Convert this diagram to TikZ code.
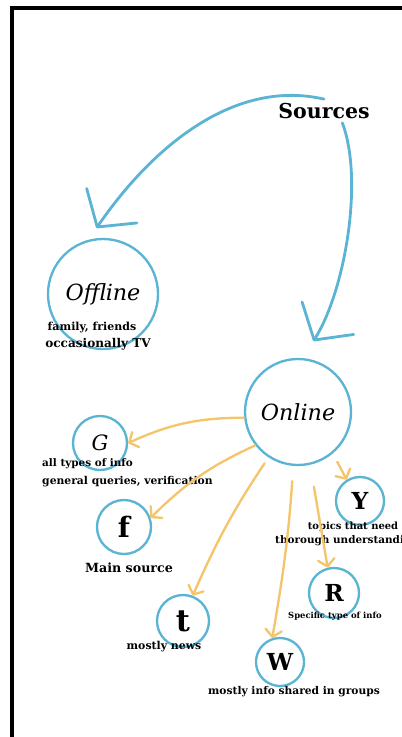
\documentclass[tikz,border=0pt]{standalone}
\usepackage{fontspec}
\setmainfont{DejaVu Serif}
\usetikzlibrary{arrows.meta}
\definecolor{skyline}{HTML}{5BB4D4}
\definecolor{sandline}{HTML}{F4C56A}

\begin{document}
\begin{tikzpicture}[x=0.03cm, y=-0.03cm,
		bubble/.style={draw=skyline, line width=2pt, circle, inner sep=0pt},
		note/.style={font=\bfseries\fontsize{#1}{#1}\selectfont, inner sep=0pt},
		bigarrow/.style={draw=skyline, line width=2.4pt, line cap=round, -{Straight Barb[length=22pt,width=52pt,round]}},
		smallarrow/.style={draw=sandline, line width=2pt, line cap=round, -{Straight Barb[length=6pt,width=14pt,round]}}]
		\useasboundingbox (0,0) rectangle (402,737);
		\clip (0,0) rectangle (402,737);
		\draw[line width=2.8pt] (12,760) -- (12,8) -- (420,8);

		% sources and the two groups
		\node[font=\bfseries\fontsize{17.5}{20}\selectfont] (src) at (324,111) {Sources};
		\node[bubble, minimum size=3.3cm, font=\itshape\fontsize{19}{22}\selectfont] (off) at (103,294) {Offline};
		\node[bubble, minimum size=3.18cm, font=\itshape\fontsize{19}{22}\selectfont] (onl) at (298,412) {Online};

		\node[note=9.4] (offa) at (92,328) {family, friends};
		\node[note=10.3] (offb) at (98,344) {occasionally TV};

		% online channels
		\node[bubble, minimum size=1.62cm, font=\itshape\fontsize{18}{18}\selectfont] (g) at (100,443) {G};
		\node[bubble, minimum size=1.62cm, font=\bfseries\fontsize{24}{24}\selectfont] (f) at (124,527) {f};
		\node[bubble, minimum size=1.56cm, font=\bfseries\fontsize{26}{26}\selectfont] (t) at (183,621) {t};
		\node[bubble, minimum size=1.44cm, font=\bfseries\fontsize{20}{20}\selectfont] (w) at (280,662) {W};
		\node[bubble, minimum size=1.5cm, font=\bfseries\fontsize{20}{20}\selectfont] (r) at (334,593) {R};
		\node[bubble, minimum size=1.44cm, font=\bfseries\fontsize{20}{20}\selectfont] (y) at (360,501) {Y};

		\node[note=8.9, anchor=west] (ga) at (42,464) {all types of info};
		\node[note=9.2, anchor=west] (gb) at (42,482) {general queries, verification};
		\node[note=10.8] (fa) at (129,568) {Main source};
		\node[note=9.3] (ta) at (164,647) {mostly news};
		\node[note=9.1] (wa) at (294,692) {mostly info shared in groups};
		\node[note=7.2] (ra) at (335,616) {Specific type of info};
		\node[note=8.5] (ya) at (353,527) {topics that need};
		\node[note=8.9, anchor=west] (yb) at (275,541) {thorough understanding};

		\draw[bigarrow, shorten >=12pt] (src.north) .. controls (232,78) and (150,150) .. (off.105);
		\draw[bigarrow, shorten >=17pt] (src.-33) .. controls (364,180) and (345,291) .. (onl.85);

		\draw[smallarrow] (onl.186) to[bend right=12] (g.east);
		\draw[smallarrow] (onl.218) to[bend right=10] (f.19);
		\draw[smallarrow, shorten <=6pt] (onl.237) to[bend right=5] (t.69);
		\draw[smallarrow, shorten <=13pt] (onl.265) to[bend left=3] (w.108);
		\draw[smallarrow, shorten <=19pt] (onl.283) to (r.104);
		\draw[smallarrow, shorten <=8pt] (onl.310) to (y.122);

	\end{tikzpicture}
\end{document}
